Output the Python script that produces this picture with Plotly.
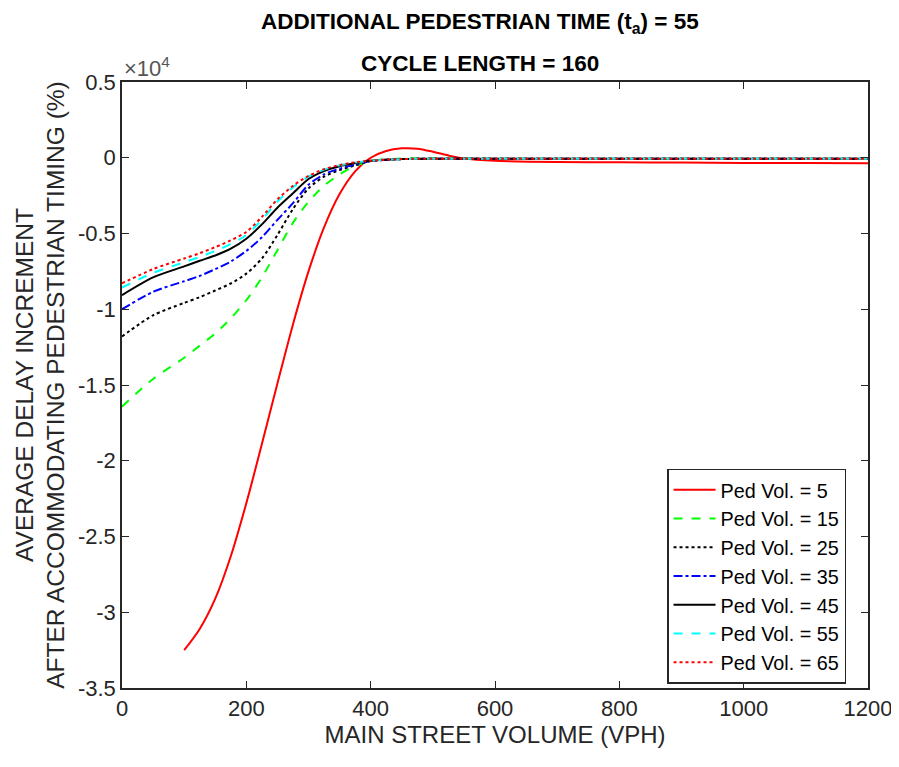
import plotly.graph_objects as go

# Main street volume (VPH)
x_grid = [0, 50, 100, 125, 150, 175, 200, 225, 250, 275, 300, 325, 350, 375, 400, 450,
          500, 550, 600, 700, 800, 900, 1000, 1100, 1200]
x_red = [100, 125, 150, 175, 200, 225, 250, 275, 300, 325, 350, 375, 400, 425, 450,
         475, 500, 525, 550, 600, 700, 800, 900, 1000, 1100, 1200]

ped5 = [-32500, -31100, -29100, -26300, -22800, -18900, -14900, -11000, -7500, -4600,
        -2400, -900, 0, 450, 620, 600, 400, 150, -50, -200, -280, -300, -320, -340,
        -350, -360]
ped15 = [-16430, -14600, -13200, -12400, -11600, -10600, -9400, -7900, -6100, -4300,
         -2900, -1850, -1100, -550, -200, -50, -40, -50, -60, -60, -60, -60, -60, -60, -60]
ped25 = [-11800, -10400, -9580, -9200, -8760, -8300, -7650, -6650, -5100, -3380,
         -2020, -1250, -820, -500, -220, -90, -60, -60, -60, -60, -60, -60, -60, -60, -60]
ped35 = [-10000, -8850, -8150, -7800, -7350, -6850, -6150, -5250, -4100, -3000,
         -1780, -1100, -720, -450, -220, -90, -60, -60, -60, -60, -60, -60, -60, -60, -60]
ped45 = [-9070, -7900, -7170, -6800, -6450, -6000, -5350, -4400, -3300, -2350,
         -1400, -880, -560, -360, -200, -90, -60, -60, -60, -60, -60, -60, -60, -60, -60]
ped55 = [-8570, -7600, -6900, -6550, -6150, -5700, -5100, -4100, -2900, -1950,
         -1250, -780, -500, -320, -200, -90, -60, -60, -60, -60, -60, -60, -60, -60, -60]
ped65 = [-8290, -7350, -6650, -6300, -5900, -5450, -4900, -3900, -2750, -1850,
         -1200, -750, -480, -300, -200, -90, -60, -60, -60, -60, -60, -60, -60, -60, -60]

names = ["Ped Vol. = 5", "Ped Vol. = 15", "Ped Vol. = 25", "Ped Vol. = 35",
         "Ped Vol. = 45", "Ped Vol. = 55", "Ped Vol. = 65"]
series = [ped5, ped15, ped25, ped35, ped45, ped55, ped65]
xs = [x_red] + [x_grid] * 6
colors = ["#FF0000", "#00FF00", "#000000", "#0000FF", "#000000", "#00FFFF", "#FF0000"]
dashes = ["solid", "dash", "dot", "dashdot", "solid", "dash", "dot"]
y_ticks = [-3.5, -3, -2.5, -2, -1.5, -1, -0.5, 0, 0.5]
y_ticktext = ["-3.5", "-3", "-2.5", "-2", "-1.5", "-1", "-0.5", "0", "0.5"]
x_ticks = [0, 200, 400, 600, 800, 1000, 1200]

SCALE = 1e4
fig = go.Figure()
for i, (nm, ys, xx, c, d) in enumerate(zip(names, series, xs, colors, dashes)):
    fig.add_trace(go.Scatter(
        x=xx, y=[v / SCALE for v in ys], mode="lines", name=nm,
        line=dict(color=c, dash=d, width=2, shape="spline", smoothing=0.8)))

axis_col = "#262626"
FONT = "Liberation Sans, Arial, sans-serif"
fig.update_layout(
    width=899, height=767,
    paper_bgcolor="white", plot_bgcolor="white",
    margin=dict(l=114, r=39, t=74, b=87),
    font=dict(family=FONT, color=axis_col, size=22),
    showlegend=True,
    legend=dict(x=0.7306, y=0.3614, xanchor="left", yanchor="top",
                bgcolor="white", bordercolor="#262626", borderwidth=1.5,
                font=dict(size=19.8, color="#000000", family=FONT), itemwidth=42,
                tracegroupgap=0),
    xaxis=dict(range=[0, 1200], tickvals=x_ticks,
               ticks="inside", ticklen=7, tickwidth=1.2, tickcolor=axis_col,
               showline=True, linecolor=axis_col, linewidth=1.5, mirror="ticks",
               showgrid=False, zeroline=False,
               title=dict(text="MAIN STREET VOLUME (VPH)", standoff=4,
                          font=dict(size=24, color=axis_col)),
               tickfont=dict(size=22, color=axis_col)),
    yaxis=dict(range=[-3.5, 0.5], tickvals=y_ticks, ticktext=y_ticktext,
               ticks="inside", ticklen=7, tickwidth=1.2, tickcolor=axis_col,
               showline=True, linecolor=axis_col, linewidth=1.5, mirror="ticks",
               showgrid=False, zeroline=False,
               title=dict(text="AVERAGE DELAY INCREMENT<br>AFTER ACCOMMODATING PEDESTRIAN TIMING (%)",
                          standoff=6, font=dict(size=24.5, color=axis_col)),
               tickfont=dict(size=22, color=axis_col)),
)

fig.add_annotation(text="<b>ADDITIONAL PEDESTRIAN TIME (t<sub>a</sub>) = 55</b>",
                   xref="paper", yref="paper", x=0.5, y=1.0, yshift=59, xshift=-15,
                   xanchor="center", yanchor="middle", showarrow=False,
                   font=dict(size=22.5, color="#000000", family=FONT))
fig.add_annotation(text="<b>CYCLE LENGTH = 160</b>",
                   xref="paper", yref="paper", x=0.5, y=1.0, yshift=19, xshift=-15,
                   xanchor="center", yanchor="middle", showarrow=False,
                   font=dict(size=22.5, color="#000000", family=FONT))
fig.add_annotation(text="\u00d710<sup>4</sup>",
                   xref="paper", yref="paper", x=0.0, y=1.0, yshift=15, xshift=0,
                   xanchor="left", yanchor="middle", showarrow=False,
                   font=dict(size=22, color="#555555", family=FONT))

fig.write_html("out.html")
